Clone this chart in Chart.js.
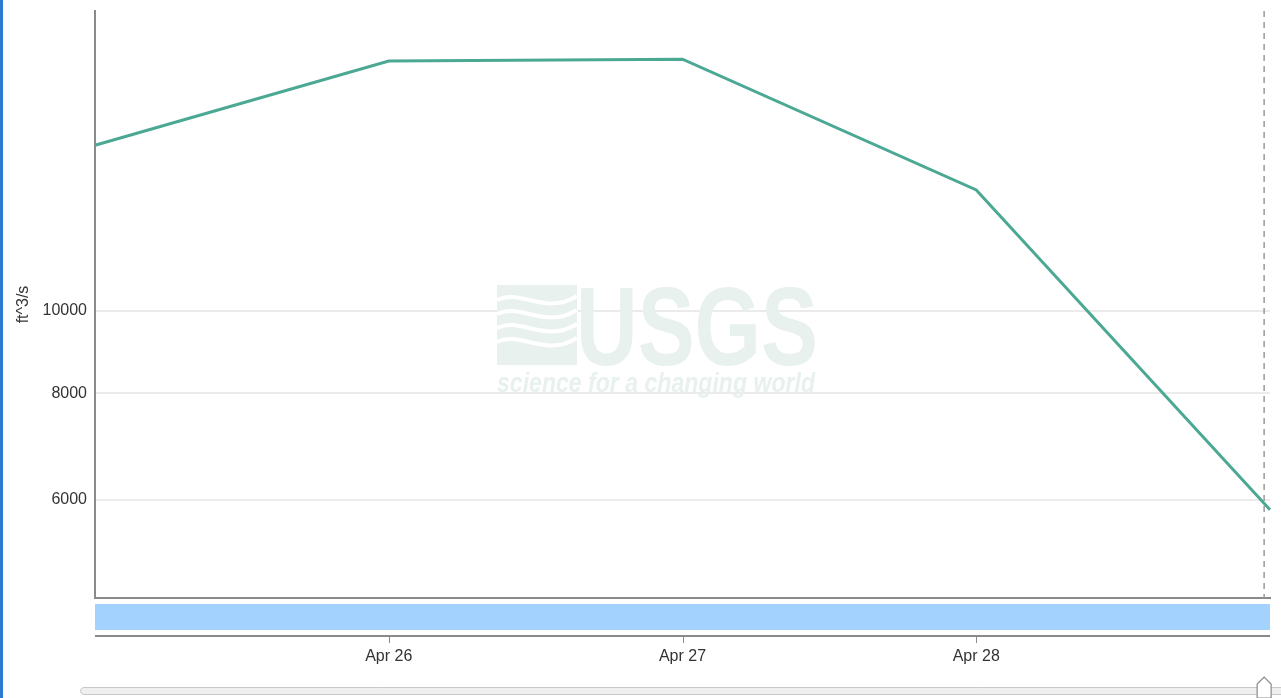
<!DOCTYPE html>
<html>
<head>
<meta charset="utf-8">
<script src="https://cdn.jsdelivr.net/npm/chart.js@4.4.0/dist/chart.umd.min.js"></script>
<style>
  body { margin: 0; background: #fff; }
  #wrap { position: relative; width: 1281px; height: 698px; }
  #edge { position: absolute; left: 0; top: 0; width: 3px; height: 698px; background: #2b7bd3; }
</style>
</head>
<body>
<div id="wrap">
  <canvas id="flow" width="1281" height="698"></canvas>
  <div id="edge"></div>
</div>
<script>
// discharge, one value per day
const DAYS = ["Apr 25", "Apr 26", "Apr 27", "Apr 28", "Apr 29"];
const FLOW = [15650, 19650, 19750, 13870, 5840];
const Y_TICKS = [6000, 8000, 10000];
const X_TICKS = ["Apr 26", "Apr 27", "Apr 28"];
const NOW_POS = 3.98; // "now" marker, in day index

const FONT = "'Liberation Sans', Arial, sans-serif";

// watermark + brush band + slider
const extras = {
  id: "extras",
  beforeDatasetsDraw(chart) {
    const ctx = chart.ctx;
    ctx.save();
    ctx.fillStyle = "#e8f1ee";
    // emblem
    ctx.fillRect(497, 285, 80, 80);
    ctx.strokeStyle = "#fff";
    ctx.lineWidth = 4;
    for (let i = 0; i < 4; i++) {
      const y0 = 300 + i * 14;
      ctx.beginPath();
      ctx.moveTo(497, y0);
      ctx.bezierCurveTo(520, y0 - 12, 545, y0 + 16, 577, y0 - 4);
      ctx.stroke();
    }
    ctx.fillStyle = "#e8f1ee";
    ctx.textBaseline = "alphabetic";
    ctx.textAlign = "left";
    ctx.font = "bold 112px 'Liberation Sans Narrow', 'Liberation Sans', Arial";
    ctx.fillText("USGS", 576, 365, 242);
    ctx.font = "italic bold 27px 'Liberation Sans Narrow', 'Liberation Sans', Arial";
    ctx.fillText("science for a changing world", 497, 392, 318);
    ctx.restore();
  },
  afterDraw(chart) {
    const ctx = chart.ctx;
    const x = chart.scales.x;
    const area = chart.chartArea;
    ctx.save();
    // now marker
    const nx = x.getPixelForValue(NOW_POS);
    ctx.strokeStyle = "#9a9a9a";
    ctx.lineWidth = 1.5;
    ctx.setLineDash([6, 5]);
    ctx.beginPath();
    ctx.moveTo(nx, area.top);
    ctx.lineTo(nx, area.bottom);
    ctx.stroke();
    ctx.setLineDash([]);
    // brush band
    ctx.fillStyle = "#a2d2fd";
    ctx.fillRect(area.left, 604, area.right - area.left, 26);
    // lower axis
    ctx.strokeStyle = "#8a8a8a";
    ctx.lineWidth = 2;
    ctx.beginPath();
    ctx.moveTo(area.left, 636);
    ctx.lineTo(area.right, 636);
    ctx.stroke();
    ctx.lineWidth = 1;
    x.ticks.forEach((t, i) => {
      const px = Math.round(x.getPixelForTick(i)) + 0.5;
      ctx.beginPath();
      ctx.moveTo(px, 636);
      ctx.lineTo(px, 643);
      ctx.stroke();
    });
    // slider track
    ctx.fillStyle = "#efefef";
    ctx.strokeStyle = "#c8c8c8";
    ctx.lineWidth = 1;
    ctx.beginPath();
    ctx.roundRect(80.5, 687.5, 1220, 7, 3.5);
    ctx.fill();
    ctx.stroke();
    // slider handle
    ctx.fillStyle = "#fff";
    ctx.strokeStyle = "#8a8a8a";
    ctx.lineWidth = 1.2;
    ctx.beginPath();
    ctx.moveTo(nx - 7, 698);
    ctx.lineTo(nx - 7, 684);
    ctx.lineTo(nx, 677);
    ctx.lineTo(nx + 7, 684);
    ctx.lineTo(nx + 7, 698);
    ctx.closePath();
    ctx.fill();
    ctx.stroke();
    ctx.restore();
  },
};

new Chart(document.getElementById("flow"), {
  type: "line",
  data: {
    labels: DAYS,
    datasets: [
      {
        label: "Discharge",
        data: FLOW,
        borderColor: "#4aa893",
        borderWidth: 3,
        pointRadius: 0,
        tension: 0,
        fill: false,
      },
    ],
  },
  options: {
    responsive: false,
    animation: false,
    layout: { padding: { top: 11, right: 11, left: 0, bottom: 0 } },
    plugins: {
      legend: { display: false },
      tooltip: { enabled: false },
    },
    scales: {
      x: {
        type: "category",
        offset: false,
        afterBuildTicks: (s) => {
          s.ticks = s.ticks.filter((t) => X_TICKS.includes(DAYS[t.value]));
        },
        afterFit: (s) => {
          s.height = 100;
          s.paddingLeft = 0;
          s.paddingRight = 0;
        },
        grid: { display: false, drawTicks: false },
        border: { display: true, color: "#8a8a8a", width: 2 },
        ticks: {
          autoSkip: false,
          maxRotation: 0,
          padding: 49,
          color: "#333",
          font: { family: FONT, size: 16 },
        },
      },
      y: {
        type: "logarithmic",
        min: 4600,
        max: 22500,
        afterBuildTicks: (s) => {
          s.ticks = Y_TICKS.map((v) => ({ value: v }));
        },
        afterFit: (s) => {
          s.width = 95;
          s.paddingTop = 0;
          s.paddingBottom = 0;
        },
        grid: { color: "#ebebeb", lineWidth: 2, drawTicks: false },
        border: { display: true, color: "#8a8a8a", width: 2 },
        ticks: {
          padding: 8,
          color: "#333",
          font: { family: FONT, size: 16 },
          callback: (v) => String(v),
        },
        title: {
          display: true,
          text: "ft^3/s",
          color: "#333",
          font: { family: FONT, size: 16 },
          padding: { top: 14, bottom: 0 },
        },
      },
    },
  },
  plugins: [extras],
});
</script>
</body>
</html>
